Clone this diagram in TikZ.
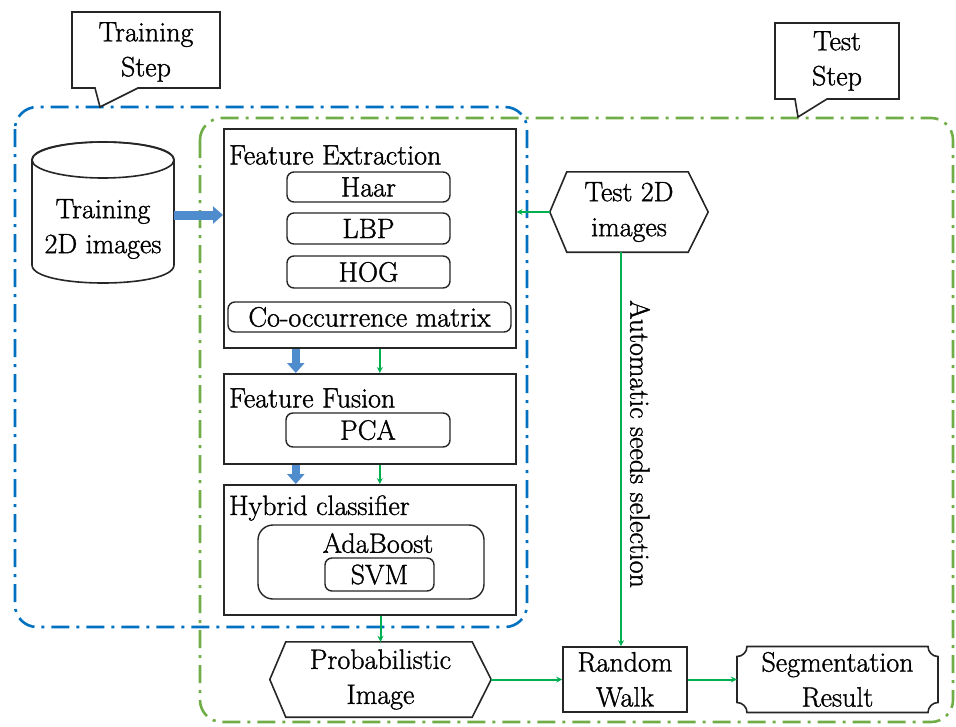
\documentclass[tikz,border=0pt]{standalone}
\usepackage{fontspec}
\setmainfont{Latin Modern Roman}[FakeBold=1.2]
\usetikzlibrary{arrows.meta,calc}
\definecolor{bluedash}{RGB}{0,112,192}
\definecolor{greendash}{RGB}{112,173,71}
\definecolor{arrowgreen}{RGB}{0,176,80}
\definecolor{lightblue}{RGB}{79,140,205}
\begin{document}
\begin{tikzpicture}[x=1pt,y=-1pt,
  grp/.style={rounded corners=22pt, line width=2.6pt, dash pattern=on 18pt off 7pt on 3pt off 7pt},
  box/.style={draw=black!85, line width=1.6pt, fill=white},
  outline/.style={draw=black!85, line width=1.6pt},
  sub/.style={draw=black!85, line width=1.4pt, rounded corners=7pt, inner sep=0pt},
  txt/.style={font=\rmfamily\fontsize{28}{35}\selectfont, align=center, inner sep=0pt},
  garrow/.style={draw=arrowgreen, line width=2pt, -{Stealth[length=6pt,width=6pt]}},
  barrow/.style={draw=lightblue, line width=8pt, -{Triangle[length=10pt,width=17pt]}}
]
\useasboundingbox (0,0) rectangle (956,726);

% groups
\draw[grp, draw=greendash] (200,118) rectangle (953,722);
\draw[grp, draw=bluedash] (15,107) rectangle (527,627);

% callouts
\draw[box] (72,12) -- (220,12) -- (220,88) -- (138,88) -- (100,107) -- (95,88) -- (72,88) -- cycle;
\node[txt] (trainstep) at (146,52) {Training\\Step};
\draw[box] (775,23) -- (899,23) -- (899,99) -- (827,99) -- (798,117) -- (795,99) -- (775,99) -- cycle;
\node[txt] (teststep) at (837,61) {Test\\Step};

% cylinder
\draw[box] (174,160) .. controls (174,136) and (32,136) .. (32,160) -- (32,265)
  .. controls (32,289) and (174,289) .. (174,265) -- cycle;
\draw[outline] (103,160) ellipse [x radius=71, y radius=18];
\node[txt, minimum width=142, minimum height=105] (train) at (103,229) {Training\\2D images};

% feature extraction
\node[box, minimum width=292, minimum height=219, anchor=north west] (fe) at (223,128) {};
\node[txt, anchor=west] (fetitle) at (229,155) {Feature Extraction};
\node[sub, txt, minimum width=163, minimum height=30] (haar) at (368.5,187) {Haar};
\node[sub, txt, minimum width=163, minimum height=31] (lbp) at (368.5,228.5) {LBP};
\node[sub, txt, minimum width=163, minimum height=32] (hog) at (368.5,272) {HOG};
\node[sub, txt, minimum width=283, minimum height=30] (cooc) at (369.5,317) {Co-occurrence matrix};

% feature fusion
\node[box, minimum width=292, minimum height=90, anchor=north west] (ff) at (223,373) {};
\node[txt, anchor=west] (fftitle) at (229,398) {Feature Fusion};
\node[sub, txt, minimum width=164, minimum height=34] (pca) at (368,430) {PCA};

% hybrid classifier
\node[box, minimum width=292, minimum height=130, anchor=north west] (hc) at (223,484) {};
\node[txt, anchor=west] (hctitle) at (229,508) {Hybrid classifier};
\draw[sub, rounded corners=15pt] (258,525) rectangle (484,599);
\node[txt] (ada) at (378,543) {AdaBoost};
\node[sub, txt, minimum width=109, minimum height=33] (svm) at (379.5,574.5) {SVM};

% test images hexagon
\node[txt, minimum width=158, minimum height=80] (test) at (629,212) {Test 2D\\images};
\draw[outline] (test.west) -- ([xshift=17pt]test.north west) -- ([xshift=-20pt]test.north east)
  -- (test.east) -- ([xshift=-20pt]test.south east) -- ([xshift=17pt]test.south west) -- cycle;

% probabilistic image hexagon
\node[txt, minimum width=221, minimum height=75] (prob) at (380.5,679.5) {Probabilistic\\Image};
\draw[outline] (prob.west) -- ([xshift=16pt]prob.north west) -- ([xshift=-19pt]prob.north east)
  -- (prob.east) -- ([xshift=-19pt]prob.south east) -- ([xshift=16pt]prob.south west) -- cycle;

% random walk
\node[box, txt, minimum width=124, minimum height=65] (rw) at (625,679.5) {Random\\Walk};

% segmentation result (plaque)
\node[txt, minimum width=201, minimum height=66] (seg) at (837.5,679.5) {Segmentation\\Result};
\draw[outline] (747,646.5) -- (928,646.5) .. controls (928,652) and (932.5,656.5) .. (938,656.5)
  -- (938,702.5) .. controls (932.5,702.5) and (928,707) .. (928,712.5)
  -- (747,712.5) .. controls (747,707) and (742.5,702.5) .. (737,702.5)
  -- (737,656.5) .. controls (742.5,656.5) and (747,652) .. (747,646.5) -- cycle;

% label
\node[txt, rotate=-90] (auto) at (640,444) {Automatic seeds selection};

% connectors
\draw[barrow, line width=9pt] ([yshift=14pt]train.east) -- ([yshift=14pt]train.east -| fe.west);
\draw[barrow] ([xshift=-74pt]fe.south) -- ([xshift=-74pt]ff.north);
\draw[barrow] ([xshift=-74pt]ff.south) -- ([xshift=-74pt]hc.north);
\draw[garrow] ([xshift=10pt]fe.south) -- ([xshift=10pt]ff.north);
\draw[garrow] ([xshift=10pt]ff.south) -- ([xshift=10pt]hc.north);
\draw[garrow] (prob.north |- hc.south) -- (prob.north);
\draw[garrow] (test.west) -- (test.west -| fe.east);
\draw[garrow] ([xshift=-8pt]test.south) -- ([xshift=-8pt]test.south |- rw.north);
\draw[garrow] (prob.east) -- (rw.west);
\draw[garrow] (rw.east) -- (seg.west);
\end{tikzpicture}
\end{document}
